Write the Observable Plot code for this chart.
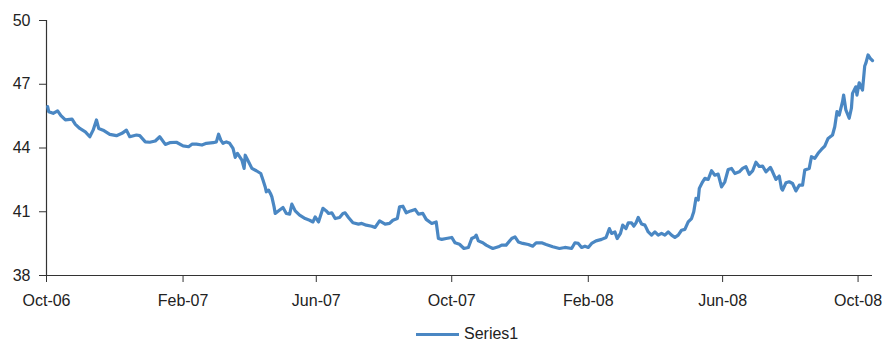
<!DOCTYPE html>
<html>
<head>
<meta charset="utf-8">
<script src="https://cdn.jsdelivr.net/npm/d3@7"></script>
<script src="https://cdn.jsdelivr.net/npm/@observablehq/plot@0.6"></script>
<style>
  html, body { margin: 0; padding: 0; background: #fff; }
  #wrap { position: relative; width: 894px; height: 341px; overflow: hidden; }
  #legend { position: absolute; top: 324px; left: 416px; height: 20px; display: flex; align-items: center;
            font-family: "Liberation Sans", Arial, sans-serif; font-size: 16px; color: #222; }
  #legend .sw { width: 43px; height: 3px; background: #4a87c3; margin-right: 5px; }
</style>
</head>
<body>
<div id="wrap"><div id="chart"></div><div id="legend"><div class="sw"></div><span>Series1</span></div></div>
<script>
const seriesName = "Series1";
const dates = [
"2006-10-02","2006-10-03","2006-10-07","2006-10-11","2006-10-14","2006-10-18","2006-10-24","2006-10-27","2006-10-31",
"2006-11-05","2006-11-09","2006-11-12","2006-11-15","2006-11-17","2006-11-21","2006-11-27",
"2006-12-03","2006-12-08","2006-12-12","2006-12-15","2006-12-21","2006-12-24","2006-12-29",
"2007-01-02","2007-01-07","2007-01-11","2007-01-16","2007-01-20","2007-01-26",
"2007-02-01","2007-02-06","2007-02-09","2007-02-13","2007-02-18","2007-02-22","2007-02-28",
"2007-03-03","2007-03-05","2007-03-07","2007-03-09","2007-03-12","2007-03-15","2007-03-18","2007-03-20","2007-03-22","2007-03-26","2007-03-28","2007-03-29",
"2007-04-01","2007-04-04","2007-04-08","2007-04-12","2007-04-14","2007-04-16","2007-04-17","2007-04-19","2007-04-21","2007-04-22","2007-04-24","2007-04-25","2007-04-29",
"2007-05-02","2007-05-05","2007-05-08","2007-05-10","2007-05-13","2007-05-17","2007-05-22","2007-05-26","2007-05-29","2007-05-31",
"2007-06-03","2007-06-07","2007-06-10","2007-06-12","2007-06-15","2007-06-18","2007-06-22","2007-06-25","2007-06-27","2007-06-30",
"2007-07-04","2007-07-09","2007-07-12","2007-07-16","2007-07-21","2007-07-24","2007-07-28",
"2007-08-02","2007-08-06","2007-08-09","2007-08-13","2007-08-15","2007-08-18","2007-08-21","2007-08-25","2007-08-29",
"2007-09-01","2007-09-05","2007-09-08","2007-09-13","2007-09-17","2007-09-19","2007-09-22","2007-09-26",
"2007-10-01","2007-10-04","2007-10-08","2007-10-12","2007-10-16","2007-10-19","2007-10-22","2007-10-23","2007-10-25","2007-10-29",
"2007-11-01","2007-11-04","2007-11-07","2007-11-12","2007-11-15","2007-11-19","2007-11-24","2007-11-27","2007-11-30",
"2007-12-04","2007-12-09","2007-12-13","2007-12-16","2007-12-21","2007-12-25","2007-12-31",
"2008-01-06","2008-01-11","2008-01-17","2008-01-20","2008-01-23","2008-01-26","2008-01-29",
"2008-02-01","2008-02-04","2008-02-08","2008-02-13","2008-02-17","2008-02-20","2008-02-22","2008-02-25","2008-02-27",
"2008-03-01","2008-03-03","2008-03-06","2008-03-08","2008-03-11","2008-03-13","2008-03-15","2008-03-17","2008-03-20","2008-03-23","2008-03-26","2008-03-29",
"2008-04-01","2008-04-04","2008-04-07","2008-04-10","2008-04-13","2008-04-16","2008-04-19","2008-04-22","2008-04-25","2008-04-28",
"2008-05-01","2008-05-04","2008-05-06","2008-05-08","2008-05-10","2008-05-11","2008-05-14","2008-05-16","2008-05-19","2008-05-22","2008-05-25","2008-05-28","2008-05-31",
"2008-06-03","2008-06-06","2008-06-09","2008-06-12","2008-06-16","2008-06-19","2008-06-22","2008-06-25","2008-06-28",
"2008-07-01","2008-07-04","2008-07-07","2008-07-10","2008-07-14","2008-07-16","2008-07-19","2008-07-22","2008-07-24","2008-07-25","2008-07-28","2008-07-31",
"2008-08-03","2008-08-06","2008-08-09","2008-08-12","2008-08-14","2008-08-18","2008-08-20","2008-08-23","2008-08-26","2008-08-29",
"2008-09-01","2008-09-04","2008-09-08","2008-09-10","2008-09-12","2008-09-14","2008-09-17","2008-09-18","2008-09-20","2008-09-23","2008-09-25","2008-09-26","2008-09-29","2008-09-30",
"2008-10-02","2008-10-05","2008-10-07","2008-10-08","2008-10-10","2008-10-12","2008-10-14"
];
const values = [
45.95,45.71,45.63,45.75,45.52,45.32,45.36,45.11,44.92,
44.76,44.53,44.84,45.32,44.92,44.84,44.64,
44.58,44.69,44.84,44.53,44.61,44.58,44.29,
44.27,44.33,44.53,44.17,44.25,44.27,
44.10,44.06,44.18,44.18,44.14,44.22,44.25,
44.29,44.65,44.37,44.22,44.29,44.22,43.98,43.56,43.75,43.43,43.04,43.66,
43.35,43.04,42.93,42.80,42.49,42.17,41.94,42.02,41.83,41.70,41.23,40.92,41.08,
41.20,40.92,40.89,41.36,41.04,40.84,40.68,40.60,40.52,40.76,
40.52,41.16,41.04,40.92,40.95,40.68,40.73,40.92,40.95,40.73,
40.48,40.42,40.45,40.37,40.32,40.26,40.57,
40.42,40.45,40.60,40.68,41.23,41.26,40.95,41.04,41.11,
40.89,40.92,40.64,40.45,40.52,39.74,39.70,39.74,
39.79,39.54,39.47,39.27,39.32,39.74,39.82,39.90,39.63,39.54,
39.43,39.35,39.27,39.35,39.43,39.43,39.74,39.82,39.58,
39.51,39.46,39.38,39.54,39.54,39.46,39.35,
39.27,39.32,39.27,39.54,39.51,39.32,39.38,
39.32,39.51,39.63,39.70,39.79,40.21,39.98,40.05,39.74,
39.98,40.37,40.21,40.48,40.48,40.32,40.48,40.73,40.42,40.37,40.05,39.90,
40.05,39.90,39.98,39.90,40.05,39.90,39.79,39.90,40.13,40.17,
40.52,40.68,41.00,41.63,41.55,42.10,42.41,42.57,42.52,42.93,42.72,42.77,42.17,
42.41,42.99,43.04,42.80,42.88,43.04,43.12,42.76,42.92,
43.33,43.13,43.15,42.88,43.09,42.88,42.52,42.68,42.10,42.02,42.36,42.41,
42.33,41.98,42.25,42.25,42.96,43.04,43.59,43.51,43.75,43.93,
44.09,44.45,44.61,45.00,45.71,45.55,46.18,46.49,45.79,45.40,45.87,46.57,46.88,46.49,
47.07,46.73,47.86,47.99,48.38,48.22,48.11
];
const xTicks = ["2006-10-01","2007-02-01","2007-06-01","2007-10-01","2008-02-01","2008-06-01","2008-10-01"];
const yTicks = [38, 41, 44, 47, 50];
const xDomain = ["2006-10-01", "2008-10-14"];
const yDomain = [38, 50];

const data = dates.map((d, i) => ({date: new Date(d + "T00:00:00Z"), value: values[i]}));
const fmt = d3.utcFormat("%b-%y");

const chart = Plot.plot({
  width: 894,
  height: 315,
  marginLeft: 46,
  marginRight: 22,
  marginTop: 20,
  marginBottom: 40,
  style: {fontFamily: "Liberation Sans, Arial, sans-serif", fontSize: "16px", color: "#222", background: "#fff", overflow: "visible"},
  x: {type: "utc", domain: xDomain.map(d => new Date(d + "T00:00:00Z"))},
  y: {domain: yDomain},
  marks: [
    Plot.axisY({ticks: yTicks, tickSize: 7, tickPadding: 9, label: null, stroke: "#333", fontSize: 16}),
    Plot.axisX({ticks: xTicks.map(d => new Date(d + "T00:00:00Z")), tickFormat: fmt, tickSize: 7, tickPadding: 12, label: null, stroke: "#333", fontSize: 16}),
    Plot.ruleX([new Date(xDomain[0] + "T00:00:00Z")], {stroke: "#333", strokeWidth: 1.2}),
    Plot.ruleY([yDomain[0]], {stroke: "#333", strokeWidth: 1.2}),
    Plot.line(data, {x: "date", y: "value", stroke: "#4a87c3", strokeWidth: 3.2, strokeLinejoin: "round", strokeLinecap: "round"})
  ]
});
document.getElementById("chart").appendChild(chart);
</script>
</body>
</html>
